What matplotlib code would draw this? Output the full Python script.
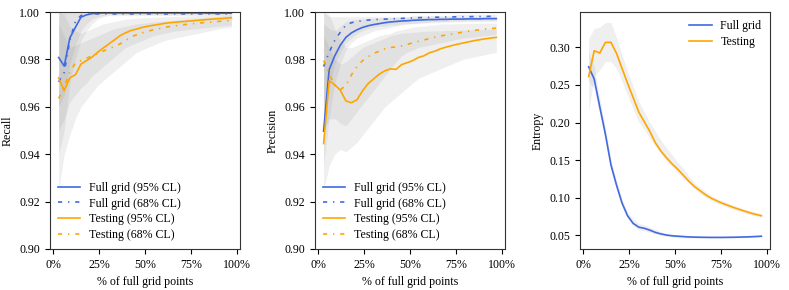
import numpy as np
import matplotlib.pyplot as plt
from matplotlib.ticker import PercentFormatter

plt.rcParams['font.family'] = ['Liberation Serif', 'DejaVu Serif']
plt.rcParams['font.size'] = 8.6

# fraction of full grid points
frac = [k / 33 for k in range(1, 33)]

# ---- Recall
rec_full95 = [.9808, .9772, .9890, .9935, .9978, .9988, .9993, .9995, .9996, .9996, .9996, .9996,
              .9996, .9996, .9996, .9996, .9996, .9996, .9996, .9996, .9996, .9996, .9996, .9996,
              .9996, .9996, .9996, .9995, .9995, .9995, .9995, .9995]
rec_full68 = [.9705, .9745, .9880, .9960, .9985, .9990, .9992, .9992, .9992, .9992, .9992, .9992,
              .9992, .9992, .9992, .9992, .9992, .9992, .9992, .9992, .9992, .9992, .9992, .9992,
              .9992, .9992, .9992, .9992, .9992, .9992, .9992, .9992]
rec_test95 = [.9722, .9668, .9722, .9735, .9780, .9795, .9810, .9830, .9848, .9865, .9882, .9900,
              .9912, .9922, .9928, .9935, .9940, .9944, .9948, .9952, .9955, .9957, .9959, .9961,
              .9963, .9965, .9967, .9969, .9971, .9972, .9974, .9976]
rec_test68 = [.9635, .9685, .9745, .9785, .9795, .9805, .9815, .9825, .9835, .9845, .9855, .9865,
              .9880, .9895, .9904, .9912, .9919, .9925, .9930, .9935, .9939, .9942, .9945, .9948,
              .9951, .9953, .9955, .9957, .9959, .9961, .9963, .9964]
rec_band = {
    'full95': ([.940, .950, .970, .980, .988, .992, .995, .997, .998, .9985, .9985, .9985,
                .9985, .9985, .9985, .9985, .9985, .9985, .9985, .9985, .9985, .9985, .9985, .9985,
                .9985, .9985, .9985, .9985, .9985, .9985, .9985, .9985],
               [1.0] * 32),
    'full68': ([.960, .965, .978, .986, .992, .995, .997, .998, .9985, .999, .999, .999,
                .999, .999, .999, .999, .999, .999, .999, .999, .999, .999, .999, .999,
                .999, .999, .999, .999, .999, .999, .999, .999],
               [1.0] * 32),
    'test95': ([.925, .940, .948, .955, .960, .963, .966, .969, .971, .973, .975, .977,
                .979, .981, .983, .984, .985, .986, .987, .988, .9885, .989, .9895, .990,
                .9905, .991, .9915, .992, .9925, .993, .9933, .9935],
               [1.0, .999, .994, .992, .991, .992, .993, .994, .995, .9955, .996, .9965,
                .997, .9972, .9974, .9976, .9977, .9978, .9979, .998, .998, .9981, .9982, .9983,
                .9984, .9985, .9985, .9986, .9986, .9987, .9987, .9988]),
    'test68': ([.950, .955, .962, .965, .968, .970, .973, .975, .977, .979, .981, .983,
                .985, .986, .987, .988, .989, .990, .9905, .991, .9915, .992, .9922, .9925,
                .9928, .993, .9933, .9935, .9938, .994, .9942, .9945],
               [.995, .990, .985, .986, .987, .988, .989, .990, .991, .992, .993, .9935,
                .994, .9945, .995, .9952, .9955, .9958, .996, .9962, .9964, .9966, .9968, .997,
                .9972, .9974, .9976, .9978, .998, .9982, .9984, .9985]),
}

# ---- Precision
pre_full95 = [.9497, .9757, .9815, .9860, .9893, .9912, .9925, .9935, .9942, .9947, .9951, .9955,
              .9958, .9960, .9962, .9963, .9965, .9966, .9967, .9968, .9968, .9969, .9969, .9970,
              .9970, .9970, .9971, .9971, .9971, .9972, .9972, .9972]
pre_full68 = [.9770, .9830, .9880, .9915, .9945, .9955, .9960, .9963, .9966, .9968, .9969, .9970,
              .9971, .9972, .9973, .9974, .9975, .9976, .9977, .9977, .9978, .9978, .9979, .9979,
              .9980, .9980, .9980, .9981, .9981, .9981, .9982, .9982]
pre_test95 = [.9445, .9710, .9693, .9670, .9625, .9617, .9630, .9668, .9698, .9718, .9738, .9752,
              .9760, .9758, .9778, .9786, .9795, .9808, .9815, .9828, .9835, .9845, .9852, .9858,
              .9864, .9869, .9874, .9879, .9883, .9887, .9890, .9893]
pre_test68 = [.9795, .9740, .9690, .9672, .9690, .9735, .9770, .9795, .9812, .9825, .9835, .9845,
              .9850, .9853, .9857, .9863, .9870, .9876, .9882, .9888, .9894, .9899, .9903, .9907,
              .9911, .9915, .9919, .9922, .9925, .9928, .9930, .9932]
pre_band = {
    'full95': ([.935, .955, .970, .978, .984, .987, .989, .990, .991, .992, .9925, .993,
                .9935, .994, .9945, .995, .995, .9952, .9953, .9954, .9955, .9956, .9957, .9958,
                .9958, .9959, .9959, .996, .996, .996, .996, .996],
               [1.0, .998, .998, .998, .998, .998, .998, .998, .998, .998, .998, .998,
                .998, .998, .998, .998, .9985, .9985, .9985, .9985, .9985, .9985, .9985, .9985,
                .999, .999, .999, .999, .999, .999, .999, .999]),
    'full68': ([.955, .968, .978, .983, .987, .989, .991, .992, .993, .9935, .994, .994,
                .9945, .9945, .995, .995, .9952, .9954, .9956, .9958, .996, .996, .996, .9962,
                .9962, .9963, .9963, .9964, .9964, .9965, .9965, .9965],
               [.995, .993, .992, .994, .996, .9965, .997, .997, .9972, .9974, .9975, .9976,
                .9977, .9977, .9978, .9978, .9978, .9979, .9979, .9979, .998, .998, .998, .998,
                .998, .998, .998, .998, .998, .998, .998, .998]),
    'test95': ([.925, .935, .940, .942, .941, .943, .945, .948, .951, .954, .957, .960,
                .962, .964, .966, .968, .970, .972, .973, .974, .975, .976, .977, .978,
                .979, .980, .9805, .981, .9815, .982, .9825, .983],
               [1.0, .999, .993, .988, .985, .985, .986, .987, .988, .989, .990, .9905,
                .991, .992, .9925, .993, .9935, .994, .994, .9945, .9945, .995, .995, .995,
                .9951, .9951, .9952, .9952, .9952, .9953, .9953, .9953]),
    'test68': ([.950, .955, .955, .953, .952, .955, .958, .961, .964, .967, .970, .973,
                .976, .979, .9815, .983, .984, .985, .9855, .986, .9865, .987, .9875, .988,
                .9885, .989, .9892, .9895, .9898, .99, .9902, .9905],
               [.990, .985, .980, .978, .979, .981, .983, .985, .986, .987, .988, .989,
                .990, .9905, .991, .9912, .9914, .9916, .9918, .992, .992, .992, .9922, .9922,
                .9924, .9924, .9925, .9926, .9926, .9927, .9928, .9928]),
}

# ---- Entropy
ent_full = [.2742, .2580, .2210, .1850, .1440, .1170, .0930, .0760, .0660, .0610, .0595, .0570,
            .0540, .0520, .0505, .0495, .0490, .0485, .0480, .0478, .0476, .0475, .0474, .0474,
            .0474, .0475, .0476, .0478, .0480, .0482, .0486, .0490]
ent_test = [.2610, .2955, .2925, .3065, .3068, .2920, .2720, .2520, .2330, .2140, .2010, .1880,
            .1730, .1620, .1530, .1450, .1380, .1300, .1220, .1150, .1095, .1040, .0995, .0960,
            .0928, .0900, .0872, .0847, .0823, .0800, .0780, .0762]
ent_full_band = ([.255, .245, .210, .176, .137, .111, .088, .072, .063, .057, .056, .054,
                  .052, .050, .049, .048, .047, .047, .0465, .0465, .0465, .0465, .0465, .0465,
                  .0465, .0465, .0467, .0468, .047, .0472, .0475, .0478],
                 [.295, .275, .232, .194, .151, .123, .098, .081, .072, .066, .064, .061,
                  .058, .055, .053, .052, .051, .050, .050, .0495, .0492, .049, .049, .049,
                  .049, .049, .049, .0492, .0494, .0496, .0498, .050])
ent_test_band = ([.215, .262, .270, .281, .281, .272, .255, .236, .218, .201, .191, .179,
                  .168, .158, .149, .141, .133, .126, .119, .112, .106, .101, .0965, .093,
                  .090, .087, .0845, .082, .0797, .0775, .0757, .074],
                 [.312, .325, .327, .333, .333, .313, .290, .268, .248, .228, .214, .200,
                  .188, .176, .166, .157, .147, .139, .129, .120, .114, .108, .103, .0995,
                  .096, .093, .090, .0875, .085, .0825, .0805, .079])

blue = '#4169e1'
orange = '#ffa500'
dashdot = (0, (2.5, 3.5, 0.8, 3.5))

fig = plt.figure(figsize=(7.89, 2.9), dpi=100)
axes = [fig.add_axes([x0, 0.1414, 0.2408, 0.8172]) for x0 in (0.0634, 0.3992, 0.7351)]


def style(ax):
    ax.xaxis.set_major_formatter(PercentFormatter(xmax=1, decimals=0))
    ax.set_xticks([0, 0.25, 0.5, 0.75, 1.0])
    ax.set_xlabel('% of full grid points')
    for s in ax.spines.values():
        s.set_color('#333333')
        s.set_linewidth(0.8)


for ax, ylab, bands, lines in [
        (axes[0], 'Recall', rec_band, (rec_full95, rec_full68, rec_test95, rec_test68)),
        (axes[1], 'Precision', pre_band, (pre_full95, pre_full68, pre_test95, pre_test68))]:
    for key in ('full95', 'full68', 'test95', 'test68'):
        lo, hi = bands[key]
        ax.fill_between(frac, lo, hi, color='gray', alpha=0.12, lw=0)
    ax.plot(frac, lines[0], color=blue, lw=1.2, label='Full grid (95% CL)')
    ax.plot(frac, lines[1], color=blue, lw=1.2, ls=dashdot, label='Full grid (68% CL)')
    ax.plot(frac, lines[2], color=orange, lw=1.2, label='Testing (95% CL)')
    ax.plot(frac, lines[3], color=orange, lw=1.2, ls=dashdot, label='Testing (68% CL)')
    ax.set_ylim(0.90, 1.00)
    ax.set_yticks([0.90, 0.92, 0.94, 0.96, 0.98, 1.00])
    ax.set_ylabel(ylab)
    ax.legend(loc='lower left', frameon=False, handlelength=1.9, handletextpad=0.7,
              borderaxespad=0.25, labelspacing=0.32)
    style(ax)

ax = axes[2]
ax.fill_between(frac, *ent_full_band, color='gray', alpha=0.12, lw=0)
ax.fill_between(frac, *ent_test_band, color='gray', alpha=0.12, lw=0)
ax.plot(frac, ent_full, color=blue, lw=1.2, label='Full grid')
ax.plot(frac, ent_test, color=orange, lw=1.2, label='Testing')
ax.set_ylim(0.032, 0.347)
ax.set_yticks([0.05, 0.10, 0.15, 0.20, 0.25, 0.30])
ax.set_ylabel('Entropy')
ax.legend(loc='upper right', frameon=False, handlelength=1.9, handletextpad=0.7,
          borderaxespad=0.3, labelspacing=0.32)
style(ax)

fig.savefig('out.png', dpi=100)
